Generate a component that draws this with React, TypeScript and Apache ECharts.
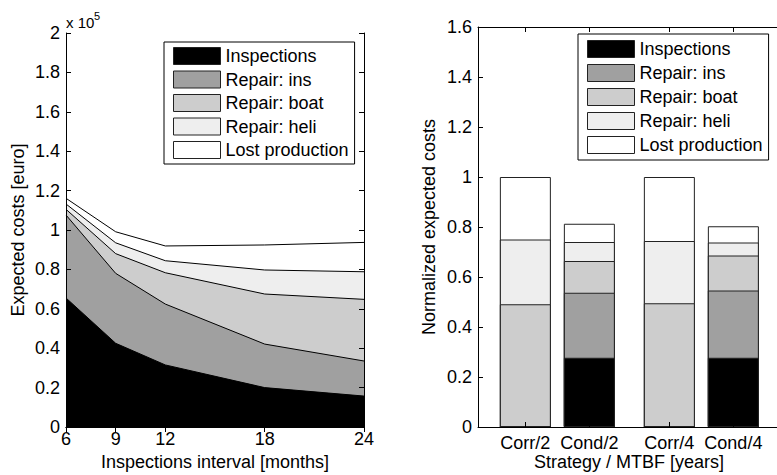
import React, { useEffect, useRef } from "react";
import * as echarts from "echarts";

// Left chart: expected costs vs inspection interval (euro)
const intervals = [6, 9, 12, 18, 24];
const inspections = [65500, 42500, 31500, 20000, 15700];
const repairIns = [42100, 35500, 30900, 22100, 17800];
const repairBoat = [2900, 10000, 15900, 25400, 31300];
const repairHeli = [2700, 5500, 6100, 12200, 14000];
const lostProduction = [2900, 5600, 7500, 12700, 14900];
const intervalTicks = [6, 9, 12, 18, 24];

// Right chart: normalized expected costs by strategy
const strategies = ["Corr/2", "Cond/2", "Corr/4", "Cond/4"];
const strategyPos = [1, 2, 3.25, 4.25];
const normInspections = [0, 0.277, 0, 0.277];
const normRepairIns = [0, 0.26, 0, 0.269];
const normRepairBoat = [0.491, 0.127, 0.495, 0.14];
const normRepairHeli = [0.259, 0.076, 0.249, 0.052];
const normLost = [0.25, 0.073, 0.256, 0.065];

const names = ["Inspections", "Repair: ins", "Repair: boat", "Repair: heli", "Lost production"];
const fills = ["#000000", "#a0a0a0", "#cdcdcd", "#eeeeee", "#ffffff"];

const FONT = "'Liberation Sans', Arial, Helvetica, sans-serif";
const FS = 18;

function cumulate(layers: number[][]): number[][] {
  const out: number[][] = [];
  layers.forEach((layer, i) => {
    out.push(layer.map((v, k) => v + (i > 0 ? out[i - 1][k] : 0)));
  });
  return out;
}

function fmt(v: number, scale: number) {
  return String(Number((v / scale).toFixed(2)));
}

export default function App() {
  const ref = useRef<HTMLDivElement>(null);
  useEffect(() => {
    if (!ref.current) return;
    const chart = echarts.init(ref.current, undefined, { renderer: "svg" });
    const cumA = cumulate([inspections, repairIns, repairBoat, repairHeli, lostProduction]);
    const cumB = cumulate([normInspections, normRepairIns, normRepairBoat, normRepairHeli, normLost]);

    const lineSeries: any[] = [];
    const barSeries: any[] = [];
    for (let i = 4; i >= 0; i--) {
      lineSeries.push({
        type: "line",
        name: names[i],
        xAxisIndex: 0,
        yAxisIndex: 0,
        data: intervals.map((x, k) => [x, cumA[i][k]]),
        symbol: "none",
        lineStyle: { color: "#000", width: 1 },
        itemStyle: { color: fills[i] },
        areaStyle: { color: fills[i], opacity: 1 },
        silent: true,
      });
      barSeries.push({
        type: "bar",
        name: names[i],
        xAxisIndex: 2,
        yAxisIndex: 2,
        data: strategyPos.map((x, k) => [x, cumB[i][k]]),
        barWidth: 51,
        barGap: "-100%",
        itemStyle: { color: fills[i], borderColor: "#222", borderWidth: 1 },
        silent: true,
      });
    }

    const legendData = names.map((n, i) => ({
      name: n,
      itemStyle: { color: fills[i], borderColor: "#222", borderWidth: 1 },
    }));
    const legendBase = {
      orient: "vertical",
      icon: "rect",
      itemWidth: 47,
      itemHeight: 17,
      itemGap: 5.5,
      borderColor: "#000",
      borderWidth: 1,
      backgroundColor: "#fff",
      textStyle: { fontFamily: FONT, fontSize: FS, color: "#000", padding: [0, 0, 0, 0] },
      selectedMode: false,
      data: legendData,
      z: 20,
    };

    const textStyle = { fontFamily: FONT, fontSize: FS, color: "#000" };
    const axisLine = { show: true, lineStyle: { color: "#000", width: 1 } };

    chart.setOption({
      animation: false,
      textStyle: { fontFamily: FONT },
      grid: [
        { left: 66, top: 33, width: 298, height: 394, containLabel: false, outerBoundsMode: "none" },
        { left: 478, top: 27, width: 302, height: 400, containLabel: false, outerBoundsMode: "none" },
      ],
      legend: [
        { ...legendBase, left: 164, top: 42, padding: [5, 6, 5, 9] },
        { ...legendBase, left: 578, top: 34, padding: [6, 6, 6, 9], itemGap: 6 },
      ],
      graphic: [
        {
          type: "text",
          left: 66,
          top: 15,
          style: { text: "x 10", fontFamily: FONT, fontSize: 15, fill: "#000" },
        },
        {
          type: "text",
          left: 94,
          top: 10,
          style: { text: "5", fontFamily: FONT, fontSize: 11, fill: "#000" },
        },
      ],
      xAxis: [
        {
          gridIndex: 0,
          type: "value",
          position: "bottom",
          min: 6,
          max: 24,
          axisLine,
          axisTick: { show: true, inside: true, length: 5, customValues: intervalTicks, lineStyle: { color: "#000" } },
          axisLabel: { ...textStyle, margin: 3, lineHeight: 18, customValues: intervalTicks, formatter: (v: number) => String(v) },
          splitLine: { show: false },
          name: "Inspections interval [months]",
          nameLocation: "middle",
          nameGap: 26,
          nameMoveOverlap: false,
          nameTextStyle: textStyle,
          z: 10,
        },
        {
          gridIndex: 0,
          type: "value",
          position: "top",
          min: 6,
          max: 24,
          axisLine,
          axisTick: { show: true, inside: true, length: 5, customValues: intervalTicks, lineStyle: { color: "#000" } },
          axisLabel: { show: false },
          splitLine: { show: false },
          z: 10,
        },
        {
          gridIndex: 1,
          type: "value",
          position: "bottom",
          min: 0.26,
          max: 0.26 + 302 / 64,
          axisLine,
          axisTick: { show: true, inside: true, length: 5, customValues: strategyPos, lineStyle: { color: "#000" } },
          axisLabel: {
            ...textStyle,
            margin: 7,
            lineHeight: 18,
            customValues: strategyPos,
            formatter: (v: number) => {
              const idx = strategyPos.findIndex((p) => Math.abs(p - v) < 1e-6);
              return idx >= 0 ? strategies[idx] : "";
            },
          },
          splitLine: { show: false },
          name: "Strategy / MTBF [years]",
          nameLocation: "middle",
          nameGap: 26,
          nameMoveOverlap: false,
          nameTextStyle: textStyle,
          z: 10,
        },
        {
          gridIndex: 1,
          type: "value",
          position: "top",
          min: 0.26,
          max: 0.26 + 302 / 64,
          axisLine,
          axisTick: { show: true, inside: true, length: 5, customValues: strategyPos, lineStyle: { color: "#000" } },
          axisLabel: { show: false },
          splitLine: { show: false },
          z: 10,
        },
      ],
      yAxis: [
        {
          gridIndex: 0,
          type: "value",
          position: "left",
          min: 0,
          max: 200000,
          interval: 20000,
          axisLine,
          axisTick: { show: true, inside: true, length: 5, lineStyle: { color: "#000" } },
          axisLabel: { ...textStyle, margin: 6, formatter: (v: number) => fmt(v, 1e5) },
          splitLine: { show: false },
          name: "Expected costs [euro]",
          nameLocation: "middle",
          nameGap: 39,
          nameMoveOverlap: false,
          nameTextStyle: textStyle,
          z: 10,
        },
        {
          gridIndex: 0,
          type: "value",
          position: "right",
          min: 0,
          max: 200000,
          interval: 20000,
          axisLine,
          axisTick: { show: true, inside: true, length: 5, lineStyle: { color: "#000" } },
          axisLabel: { show: false },
          splitLine: { show: false },
          z: 10,
        },
        {
          gridIndex: 1,
          type: "value",
          position: "left",
          min: 0,
          max: 1.6,
          interval: 0.2,
          axisLine,
          axisTick: { show: true, inside: true, length: 5, lineStyle: { color: "#000" } },
          axisLabel: { ...textStyle, margin: 6, formatter: (v: number) => fmt(v, 1) },
          splitLine: { show: false },
          name: "Normalized expected costs",
          nameLocation: "middle",
          nameGap: 40,
          nameMoveOverlap: false,
          nameTextStyle: textStyle,
          z: 10,
        },
      ],
      series: [...lineSeries, ...barSeries],
    });
    return () => chart.dispose();
  }, []);
  return (
    <div
      ref={ref}
      style={{ position: "fixed", left: 0, top: 0, width: 777, height: 475, background: "#fff" }}
    />
  );
}
